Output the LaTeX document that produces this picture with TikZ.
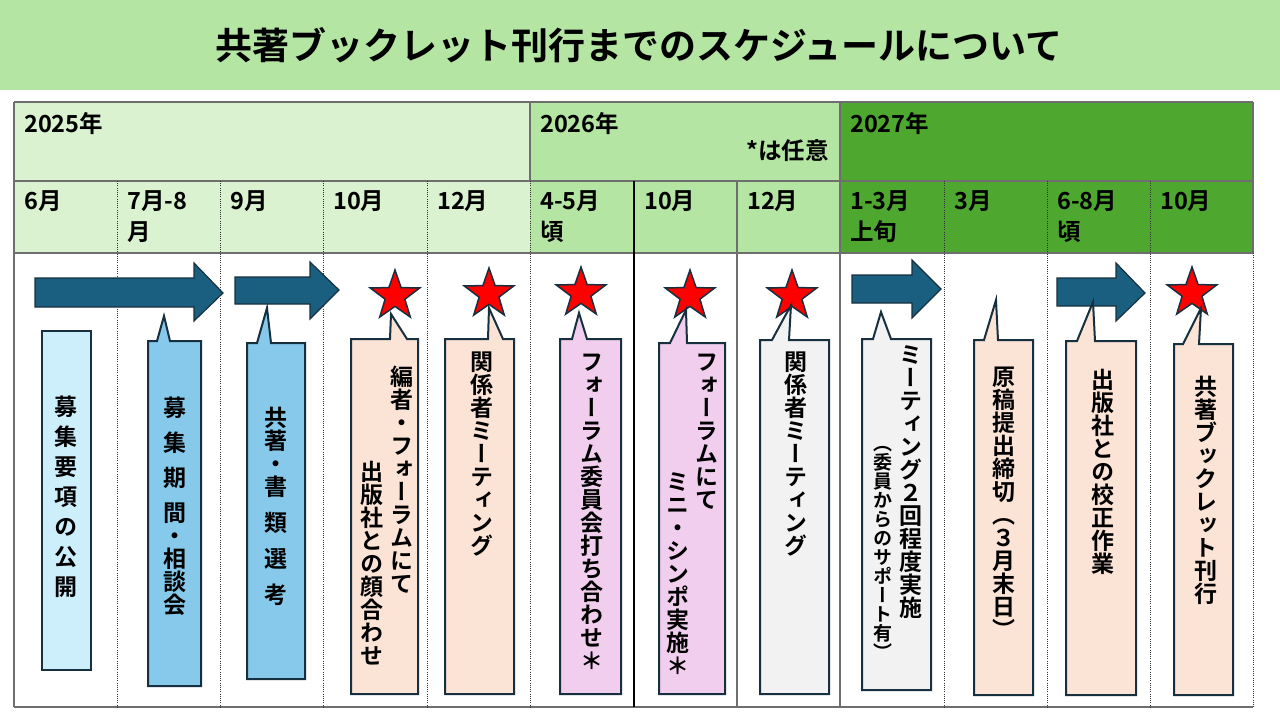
\documentclass[tikz,border=0pt]{standalone}
\usepackage{fontspec}
\setmainfont{Noto Sans CJK JP}[BoldFont=* Bold]
\newfontfamily\tatefont{Noto Sans CJK JP}[RawFeature=+vert, BoldFont=* Bold]
\usetikzlibrary{shapes.geometric}
\definecolor{titlegreen}{HTML}{B5E5A3}
\definecolor{paleyear}{HTML}{DAF2D0}
\definecolor{midyear}{HTML}{B4E5A2}
\definecolor{darkyear}{HTML}{4EA72E}
\definecolor{gridgray}{HTML}{6E6E6E}
\definecolor{arrowblue}{HTML}{1B5F80}
\definecolor{edgenavy}{HTML}{17303F}
\definecolor{skyfill}{HTML}{86C9EA}
\definecolor{cyanfill}{HTML}{CDEEFB}
\definecolor{peach}{HTML}{FBE3D6}
\definecolor{pinkfill}{HTML}{F1CEEE}
\definecolor{grayfill}{HTML}{F2F2F2}
% vertical stacking of characters, one em each
\makeatletter
\newcommand{\aki}[1]{\kern#1pt}
\newcommand{\tate}[1]{\vbox{\offinterlineskip\@tfor\tchar:=#1\do{%
    \setbox0\hbox{\tchar}%
    \ifdim\wd0<.6em \vskip\wd0 \else
    \setbox2\hbox to 1em{\hss\box0\hss}\ht2=.88em \dp2=.12em \box2\fi}}}
\makeatother

\begin{document}
\begin{tikzpicture}[x=1pt, y=-1pt,
    gridline/.style={draw=gridgray, line width=1.3pt},
    darkline/.style={draw=black, line width=1.3pt},
    dotline/.style={draw=black!80, line width=1pt, dash pattern=on 1pt off 1.2pt},
    arrowshape/.style={fill=arrowblue, draw=edgenavy, line width=1.2pt, line join=miter},
    hoshi/.style={star, star points=5, star point ratio=2.5, minimum size=52pt, inner sep=0pt,
        fill=red, draw=edgenavy, line width=1.5pt},
    fukidashi/.style={draw=edgenavy, line width=2pt, line join=miter},
    label/.style={font=\bfseries\fontsize{23.5}{31}\selectfont, inner sep=0pt, align=left},
    tatenode/.style={font=\tatefont\bfseries\fontsize{23}{28}\selectfont, inner sep=0pt, anchor=north}]
            \useasboundingbox (0,0) rectangle (1280,720);
            % title band
            \fill[titlegreen] (0,0) rectangle (1280,90);
            \node[font=\bfseries\fontsize{37}{42}\selectfont] (title) at (639,45) {共著ブックレット刊行までのスケジュールについて};
            % header cells
            \fill[paleyear] (14,102) rectangle (530,253);
            \fill[midyear] (530,102) rectangle (840,253);
            \fill[darkyear] (840,102) rectangle (1253,253);
            \draw[gridline] (14,102) -- (1253,102);
            \draw[gridline] (14,181) -- (1253,181);
            \draw[gridline] (14,253) -- (1253,253);
            \draw[gridline] (14,707) -- (1253,707);
            \draw[gridline] (14,102) -- (14,707);
            \draw[gridline] (530,102) -- (530,181);
            \draw[gridline] (840,102) -- (840,707);
            \draw[gridline] (1253,102) -- (1253,253);
            \draw[darkline] (634,181) -- (634,707);
            \draw[gridline] (737,181) -- (737,707);
            \foreach \x in {117, 220, 323, 427, 530, 944, 1047, 1150} {
                    \draw[dotline] (\x,181) -- (\x,707);
            }
            \draw[dotline] (1253,253) -- (1253,707);
            % years and months
            \node[label, anchor=base west] (y2025) at (24,132) {2025年};
            \node[label, anchor=base west] (y2026) at (540,132) {2026年};
            \node[label, anchor=base west] (y2027) at (850,132) {2027年};
            \node[label, anchor=base east] (nini) at (829,159) {*は任意};
            \foreach \x/\m [count=\i] in {24/6月, 127/{7月-8\\月}, 230/9月, 333/10月, 437/12月, 540/{4-5月\\頃},
                    644/10月, 747/12月, 850/{1-3月\\上旬}, 954/3月, 1057/{6-8月\\頃}, 1160/10月} {
                    \node[label, anchor=north west] (m\i) at (\x,190) {\m};
            }
            % arrows
            \draw[arrowshape] (35,278) -- (194,278) -- (194,263) -- (223,293) -- (194,321) -- (194,307) -- (35,307) -- cycle;
            \draw[arrowshape] (235,277) -- (310,277) -- (310,262) -- (339,290) -- (310,319) -- (310,304) -- (235,304) -- cycle;
            \draw[arrowshape] (852,275) -- (912,275) -- (912,260) -- (941,289) -- (912,318) -- (912,303) -- (852,303) -- cycle;
            \draw[arrowshape] (1057,278) -- (1116,278) -- (1116,263) -- (1145,293) -- (1116,321) -- (1116,306) -- (1057,306) -- cycle;
            % stars
            \node[hoshi] (s1) at (395,296) {};
            \node[hoshi] (s2) at (489,294) {};
            \node[hoshi] (s3) at (581,293) {};
            \node[hoshi] (s4) at (690,296) {};
            \node[hoshi] (s5) at (792,296) {};
            \node[hoshi] (s6) at (1192,293) {};
            % callouts
            \draw[fukidashi, fill=cyanfill] (42,331) rectangle (91,670);
            \draw[fukidashi, fill=skyfill] (148,341) -- (157,341) -- (164,316) -- (170,341) -- (201,341) -- (201,686) -- (148,686) -- cycle;
            \draw[fukidashi, fill=skyfill] (247,343) -- (257,343) -- (267,308) -- (271,343) -- (305,343) -- (305,679) -- (247,679) -- cycle;
            \draw[fukidashi, fill=peach] (351,339) -- (390,339) -- (391,314) -- (407,339) -- (418,339) -- (418,694) -- (351,694) -- cycle;
            \draw[fukidashi, fill=peach] (445,339) -- (488,339) -- (489,308) -- (503,339) -- (514,339) -- (514,694) -- (445,694) -- cycle;
            \draw[fukidashi, fill=pinkfill] (560,339) -- (572,339) -- (579,313) -- (587,339) -- (621,339) -- (621,694) -- (560,694) -- cycle;
            \draw[fukidashi, fill=pinkfill] (659,343) -- (670,343) -- (686,310) -- (687,343) -- (725,343) -- (725,694) -- (659,694) -- cycle;
            \draw[fukidashi, fill=grayfill] (760,340) -- (772,340) -- (791,305) -- (789,340) -- (829,340) -- (829,694) -- (760,694) -- cycle;
            \draw[fukidashi, fill=grayfill] (862,339) -- (873,339) -- (881,312) -- (891,339) -- (931,339) -- (931,690) -- (862,690) -- cycle;
            \draw[fukidashi, fill=peach] (974,340) -- (984,340) -- (996,300) -- (998,340) -- (1033,340) -- (1033,695) -- (974,695) -- cycle;
            \draw[fukidashi, fill=peach] (1066,341) -- (1077,341) -- (1093,302) -- (1095,341) -- (1136,341) -- (1136,695) -- (1066,695) -- cycle;
            \draw[fukidashi, fill=peach] (1174,344) -- (1183,344) -- (1201,308) -- (1199,344) -- (1233,344) -- (1233,695) -- (1174,695) -- cycle;
            % vertical texts
            \node[tatenode] (t1) at (66,395) {\tate{募{\aki7}集{\aki7}要{\aki7}項{\aki7}の{\aki7}公{\aki7}開}};
            \node[tatenode] (t2) at (175,396) {\tate{募{\aki{12}}集{\aki{12}}期{\aki{12}}間・相談会}};
            \node[tatenode] (t3) at (276,406) {\tate{共著・書{\aki{13}}類{\aki{13}}選{\aki{13}}考}};
            \node[tatenode] (t4a) at (402,365) {\tate{編者・フォーラムにて}};
            \node[tatenode] (t4b) at (372,460) {\tate{出版社との顔合わせ}};
            \node[tatenode] (t5) at (482,350) {\tate{関係者ミーティング}};
            \node[tatenode] (t6) at (592,350) {\tate{フォーラム委員会打ち合わせ＊}};
            \node[tatenode] (t7a) at (707,350) {\tate{フォーラムにて}};
            \node[tatenode] (t7b) at (678,470) {\tate{ミニ・シンポ実施＊}};
            \node[tatenode] (t8) at (796,350) {\tate{関係者ミーティング}};
            \node[tatenode] (t9a) at (911,343) {\tate{ミーティング２回程度実施}};
            \node[tatenode, font=\tatefont\bfseries\fontsize{19}{22}\selectfont] (t9b) at (883,434) {\tate{（委員からのサポート有）}};
            \node[tatenode] (t10) at (1004,365) {\tate{原稿提出締切（３月末日）}};
            \node[tatenode] (t11) at (1103,368) {\tate{出版社との校正作業}};
            \node[tatenode] (t12) at (1206,375) {\tate{共著ブックレット刊行}};
    \end{tikzpicture}
\end{document}
